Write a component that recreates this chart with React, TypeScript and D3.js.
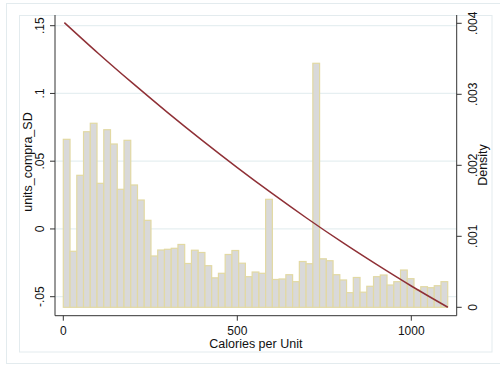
import React from "react";
import * as d3 from "d3";

// Histogram (density) of Calories per Unit: 57 bins starting at 0
const binStart = 0;
const binWidth = 19.38;
const densities = [
  0.002366, 0.000789, 0.001859, 0.002473, 0.002592, 0.001746, 0.002501, 0.0023,
  0.001662, 0.002352, 0.001723, 0.001511, 0.001225, 0.000723, 0.000807, 0.000817,
  0.000831, 0.000885, 0.000617, 0.000804, 0.000772, 0.000586, 0.000415, 0.000479,
  0.000744, 0.0008, 0.000621, 0.000431, 0.000497, 0.000479, 0.001521, 0.000392,
  0.000399, 0.000459, 0.000361, 0.000645, 0.000614, 0.003437, 0.000683, 0.000656,
  0.000459, 0.000385, 0.000206, 0.00042, 0.000213, 0.000296, 0.000431, 0.000455,
  0.000314, 0.000361, 0.000525, 0.000403, 0.000244, 0.00029, 0.000276, 0.000304,
  0.000361,
];

// Fitted line units_compra_SD vs calories
const lineX = [3, 100, 200, 300, 400, 500, 600, 700, 800, 900, 1000, 1105];
const lineY = [0.1523, 0.1297, 0.1074, 0.0859, 0.0652, 0.0453, 0.0262, 0.0079, -0.0096, -0.0262, -0.0421, -0.0578];

const xTicks = [0, 500, 1000];
const leftTicks = [-0.05, 0, 0.05, 0.1, 0.15];
const leftTickLabels = ["-.05", "0", ".05", ".1", ".15"];
const rightTicks = [0, 0.001, 0.002, 0.003, 0.004];
const rightTickLabels = ["0", ".001", ".002", ".003", ".004"];

export default function App() {
  const x = d3.scaleLinear().domain([0, 1000]).range([63.3, 411.3]);
  const yL = d3.scaleLinear().domain([-0.05, 0.15]).range([296.7, 25.7]);
  const yR = d3.scaleLinear().domain([0, 0.004]).range([307.3, 23.3]);

  const left = 55;
  const right = 456.7;
  const bottom = 315.7;
  const top = 15;

  const line = d3
    .line<number>()
    .x((_, i) => x(lineX[i]))
    .y((d) => yL(d))
    .curve(d3.curveMonotoneX);

  const font = "'Liberation Sans', Arial, Helvetica, sans-serif";
  const frame = "#e3ebee";

  return (
    <svg
      width={500}
      height={367}
      style={{ position: "absolute", left: 0, top: 0, background: "#fff" }}
      fontFamily={font}
    >
      <rect x={6.5} y={3.5} width={510} height={360} fill="none" stroke={frame} strokeWidth={1} />
      <rect x={19.5} y={15.5} width={472.5} height={336.5} fill="none" stroke={frame} strokeWidth={1} />

      {/* gridlines */}
      {leftTicks.map((t) => (
        <line key={"g" + t} x1={left} x2={right} y1={yL(t)} y2={yL(t)} stroke="#e6eff1" strokeWidth={1.2} />
      ))}

      {/* bars */}
      {densities.map((d, i) => {
        const x0 = x(binStart + i * binWidth);
        const x1 = x(binStart + (i + 1) * binWidth);
        return (
          <rect
            key={"b" + i}
            x={x0}
            y={yR(d)}
            width={x1 - x0}
            height={yR(0) - yR(d)}
            fill="#d9d9d9"
            stroke="#e2d9a3"
            strokeWidth={1.2}
          />
        );
      })}

      {/* fitted line */}
      <path d={line(lineY) || ""} fill="none" stroke="#8f3036" strokeWidth={1.5} />

      {/* axes */}
      <line x1={left} x2={left} y1={top} y2={bottom} stroke="#333" strokeWidth={1} />
      <line x1={right} x2={right} y1={top} y2={bottom} stroke="#333" strokeWidth={1} />
      <line x1={left} x2={right} y1={bottom} y2={bottom} stroke="#333" strokeWidth={1} />

      {/* left ticks */}
      {leftTicks.map((t, i) => (
        <g key={"l" + t}>
          <line x1={left - 5} x2={left} y1={yL(t)} y2={yL(t)} stroke="#333" />
          <text
            transform={`translate(${43.5},${yL(t)}) rotate(-90)`}
            textAnchor="middle"
            fontSize={12}
            fill="#111"
          >
            {leftTickLabels[i]}
          </text>
        </g>
      ))}

      {/* right ticks */}
      {rightTicks.map((t, i) => (
        <g key={"r" + t}>
          <line x1={right} x2={right + 5} y1={yR(t)} y2={yR(t)} stroke="#333" />
          <text
            transform={`translate(${476.5},${yR(t)}) rotate(-90)`}
            textAnchor="middle"
            fontSize={12}
            fill="#111"
          >
            {rightTickLabels[i]}
          </text>
        </g>
      ))}

      {/* bottom ticks */}
      {xTicks.map((t) => (
        <g key={"x" + t}>
          <line x1={x(t)} x2={x(t)} y1={bottom} y2={bottom + 5} stroke="#333" />
          <text x={x(t)} y={335} textAnchor="middle" fontSize={12} fill="#111">
            {t}
          </text>
        </g>
      ))}

      {/* titles */}
      <text x={(left + right) / 2} y={347.5} textAnchor="middle" fontSize={12.5} fill="#111">
        Calories per Unit
      </text>
      <text transform={`translate(31.5,162) rotate(-90)`} textAnchor="middle" fontSize={12.5} fill="#111">
        units_compra_SD
      </text>
      <text transform={`translate(487,165) rotate(-90)`} textAnchor="middle" fontSize={12.5} fill="#111">
        Density
      </text>
    </svg>
  );
}
